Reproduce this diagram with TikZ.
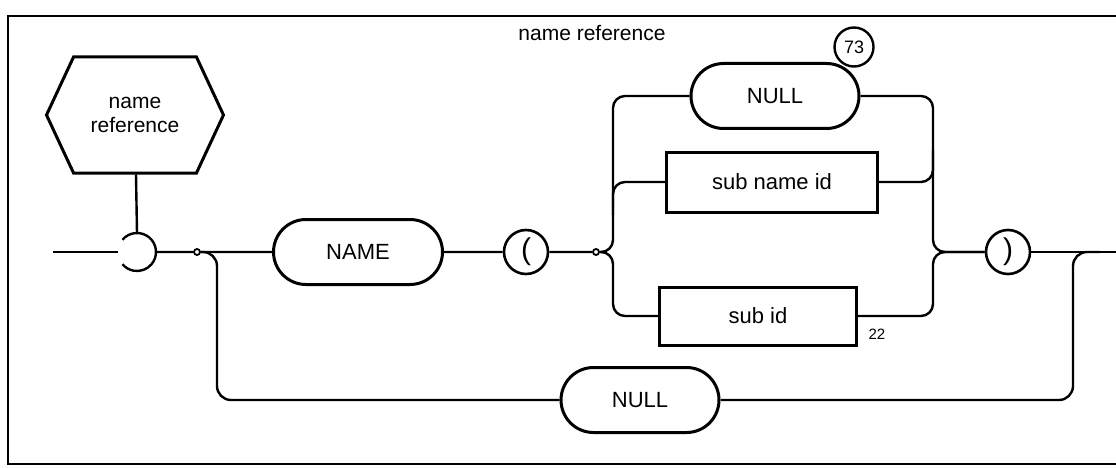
\documentclass[tikz,border=0pt]{standalone}
\usepackage{fontspec}
\setmainfont{Liberation Sans}
\usetikzlibrary{positioning, shapes.misc, shapes.symbols}

\tikzstyle{hexa}=[%
      signal, signal to=east and west, signal pointer angle=130, draw=black, line width=3pt,
      minimum width=177pt, minimum height=116pt, inner sep=2pt, align=center,
      font=\fontsize{21}{24}\selectfont
]
\tikzstyle{pill}=[%
      rounded rectangle, draw=black, line width=3pt,
      minimum height=65pt, inner sep=4pt, font=\fontsize{22}{24}\selectfont
]
\tikzstyle{box}=[%
      rectangle, draw=black, line width=3pt,
      minimum height=60pt, inner sep=4pt, font=\fontsize{22}{24}\selectfont
]
\tikzstyle{paren}=[%
      circle, draw=black, line width=2.6pt, minimum size=44pt, inner sep=0pt,
      font=\fontsize{30}{32}\selectfont
]
\tikzstyle{dot}=[circle, draw=black, line width=1.8pt, minimum size=6pt, inner sep=0pt]

\begin{document}
\begin{tikzpicture}[x=1pt, y=-1pt, line width=2.4pt]
    \useasboundingbox (0,0) rectangle (1116,468);
    \clip (0,0) rectangle (1116,468);
    \draw[line width=2.2pt] (8,16) rectangle (1140,464);

    \node[font=\fontsize{21}{24}\selectfont] (title) at (592,33) {name reference};
    \node[circle, draw, line width=2.4pt, minimum size=39pt, inner sep=0pt,
          font=\fontsize{18}{20}\selectfont] (num) at (854,47) {73};

    % entry, main line
    \node[hexa] (ref) at (135,115) {name\\reference};
    \node[circle, minimum size=38pt, inner sep=0pt, outer sep=0pt] (entry) at (137,252) {};
    \coordinate (in) at (53,252);
    \coordinate (out) at (1125,252);
    \node[dot] (fork) at (197,252) {};
    \node[pill, minimum width=177pt] (name) at (358,252) {NAME};
    \node[paren] (lp) at (526,252) {(};
    \node[dot] (split) at (596,252) {};

    % alternatives inside the parentheses
    \node[pill, minimum width=176pt] (nulla) at (775,96) {NULL};
    \node[box, minimum width=211pt] (subname) at (772,182) {sub name id};
    \node[box, minimum width=197pt, minimum height=58pt] (subid) at (758,316) {sub id};
    \node[font=\fontsize{15}{17}\selectfont, anchor=west] (n22) at (864,334) {22};
    \node[paren] (rp) at (1008,252) {)};

    % bypass
    \node[pill, minimum width=166pt] (nullb) at (640,400) {NULL};

    \draw (ref) -- (entry.north);
    \draw (entry.140) arc[start angle=140, end angle=-140, radius=19pt];
    \draw (in) -- (entry.west);
    \draw (entry.east) -- (fork) -- (name) -- (lp) -- (split);
    \draw (rp) -- (out);

    \draw[rounded corners=12pt] (split) -- (613,252) |- (nulla);
    \draw[rounded corners=12pt] (split) -- (613,252) |- (subid);
    \draw[rounded corners=12pt] (613,215) |- (subname);

    \draw[rounded corners=12pt] (nulla) -| (933,252) -- (rp);
    \draw[rounded corners=12pt] (subid) -| (933,252) -- (rp);
    \draw[rounded corners=12pt] (subname) -| (933,150);

    \draw[rounded corners=14pt] (fork) -- (217,252) |- (nullb);
    \draw[rounded corners=14pt] (nullb) -| (1073,252) -- (1100,252);
\end{tikzpicture}
\end{document}
